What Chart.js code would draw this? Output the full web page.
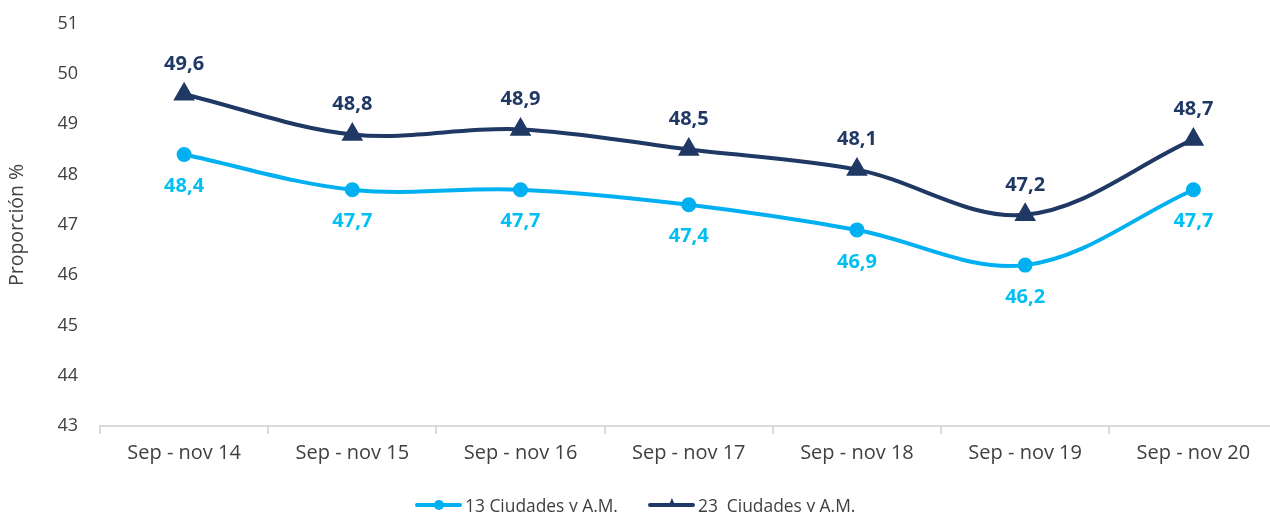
<!DOCTYPE html>
<html>
<head>
<meta charset="utf-8">
<script src="https://cdn.jsdelivr.net/npm/chart.js@4"></script>
<style>
  html, body { margin: 0; padding: 0; background: #fff; overflow: hidden; width: 1270px; height: 512px; }
  #wrap { position: relative; width: 1270px; height: 512px; overflow: hidden; }
  canvas { position: absolute; left: 0; top: -9px; }
  #legend { position: absolute; top: 488px; left: 415px; font-family: 'Open Sans', sans-serif; font-size: 17.4px; color: #404040; white-space: nowrap; }
  .item { display: inline-flex; align-items: center; margin-right: 30px; }
  .sw { position: relative; display: inline-block; width: 47px; height: 4px; border-radius: 2px; margin-right: 3px; }
  .sw i { position: absolute; left: 19px; top: -3px; width: 10px; height: 10px; border-radius: 50%; }
</style>
</head>
<body>
<div id="wrap">
  <canvas id="c" width="1290" height="521"></canvas>
  <div id="legend"></div>
</div>
<script>
    const categories = ["Sep - nov 14", "Sep - nov 15", "Sep - nov 16", "Sep - nov 17", "Sep - nov 18", "Sep - nov 19", "Sep - nov 20"];
    const ciudades13 = [48.4, 47.7, 47.7, 47.4, 46.9, 46.2, 47.7];
    const ciudades23 = [49.6, 48.8, 48.9, 48.5, 48.1, 47.2, 48.7];
    const seriesNames = ["13 Ciudades y A.M.", "23  Ciudades y A.M."];
    const yTicks = [43, 44, 45, 46, 47, 48, 49, 50, 51];

    const lightBlue = "#00B0F0";
    const navy = "#1F3864";
    const fontFam = "'Open Sans', sans-serif";

    // draws the value labels: navy above, light blue below
    const valueLabels = {
        id: "valueLabels",
        afterDatasetsDraw(chart) {
            let ctx = chart.ctx;
            ctx.save();
            ctx.font = "bold 20px " + fontFam;
            ctx.textAlign = "center";
            ctx.textBaseline = "middle";
            chart.data.datasets.forEach((ds, di) => {
                let meta = chart.getDatasetMeta(di);
                meta.data.forEach((pt, i) => {
                    let txt = ds.data[i].toFixed(1).replace(".", ",");
                    ctx.fillStyle = di === 0 ? "#00BFF3" : navy;
                    let dy = di === 0 ? 32 : -30;
                    ctx.fillText(txt, pt.x, pt.y + dy);
                });
            });
            ctx.restore();
        }
    };

    new Chart(document.getElementById("c"), {
        type: "line",
        data: {
            labels: categories,
            datasets: [{
                label: seriesNames[0],
                data: ciudades13,
                borderColor: lightBlue,
                backgroundColor: lightBlue,
                borderWidth: 4,
                pointStyle: "circle",
                pointRadius: 5.5,
                tension: 0.35
            }, {
                label: seriesNames[1],
                data: ciudades23,
                borderColor: navy,
                backgroundColor: navy,
                borderWidth: 4,
                pointStyle: "triangle",
                pointRadius: 8.5,
                tension: 0.35
            }]
        },
        options: {
            responsive: false,
            animation: false,
            layout: { padding: { top: 13, right: 7, left: 0, bottom: 0 } },
            plugins: { legend: { display: false }, tooltip: { enabled: false } },
            scales: {
                x: {
                    offset: true,
                    grid: { offset: true, drawOnChartArea: false, drawTicks: true, tickLength: 8, color: "#d9d9d9", lineWidth: 2 },
                    border: { display: true, color: "#d9d9d9", width: 2 },
                    ticks: { color: "#404040", font: { family: fontFam, size: 20 }, padding: 7 },
                    afterFit(scale) { scale.height = 86; }
                },
                y: {
                    min: 43,
                    max: 51,
                    afterBuildTicks(scale) { scale.ticks = yTicks.map(v => ({ value: v })); },
                    grid: { display: false, drawTicks: false },
                    border: { display: false },
                    ticks: { color: "#404040", font: { family: fontFam, size: 18 }, padding: 22 },
                    title: { display: true, text: "Proporción %", color: "#404040", font: { family: fontFam, size: 19.5 }, padding: { top: 6, bottom: 0 } },
                    afterFit(scale) { scale.width = 100; }
                }
            }
        },
        plugins: [valueLabels]
    });

    // legend in html, line + marker like the original
    let legend = document.getElementById("legend");
    [[seriesNames[0], lightBlue, "circle"], [seriesNames[1], navy, "triangle"]].forEach(([name, col, shape]) => {
        let item = document.createElement("span");
        item.className = "item";
        let sw = document.createElement("span");
        sw.className = "sw";
        sw.style.background = col;
        let m = document.createElement("i");
        m.style.background = col;
        if (shape === "triangle") {
            m.style.borderRadius = "0";
            m.style.width = "8px";
            m.style.left = "20px";
            m.style.height = "9px";
            m.style.top = "-5px";
            m.style.clipPath = "polygon(50% 0, 100% 100%, 0 100%)";
        }
        sw.appendChild(m);
        item.appendChild(sw);
        let t = document.createElement("span");
        t.textContent = name;
        t.style.whiteSpace = "pre";
        item.appendChild(t);
        legend.appendChild(item);
    });
</script>
</body>
</html>
